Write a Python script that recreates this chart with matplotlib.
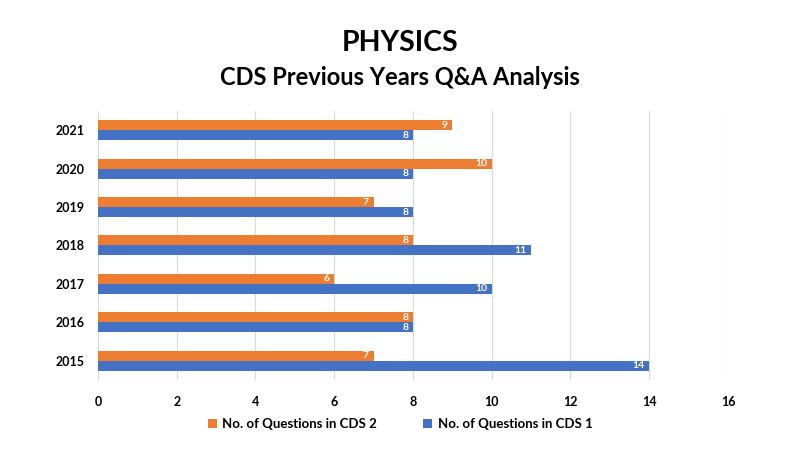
import numpy as np
import matplotlib.pyplot as plt

years = ["2015", "2016", "2017", "2018", "2019", "2020", "2021"]
cds2 = [7, 8, 6, 8, 7, 10, 9]
cds1 = [14, 8, 10, 11, 8, 8, 8]

ORANGE = "#ED7D31"
BLUE = "#4472C4"

plt.rcParams["font.family"] = ["Lato", "DejaVu Sans"]
plt.rcParams["font.weight"] = "bold"

fig = plt.figure(figsize=(8, 4.5), dpi=100)
ax = fig.add_axes([0.1225, 0.156, 0.7875, 0.597])

y = np.arange(len(years))
h = 0.26
b2 = ax.barh(y + h / 2, cds2, height=h, color=ORANGE, label="No. of Questions in CDS 2", zorder=3)
b1 = ax.barh(y - h / 2, cds1, height=h, color=BLUE, label="No. of Questions in CDS 1", zorder=3)

# white value labels just inside the bar ends
for bars in (b2, b1):
    for rect in bars:
        w = rect.get_width()
        ax.text(w - 0.12, rect.get_y() + rect.get_height() / 2, f"{w:g}",
                ha="right", va="center", color="white", fontsize=7.5, fontweight="bold", zorder=4)

ax.set_xlim(0, 16)
ax.set_ylim(-0.5, 6.5)
ax.set_xticks(range(0, 17, 2))
ax.set_yticks(y)
ax.set_yticklabels(years)
ax.tick_params(axis="both", length=0, labelsize=9, pad=12)
ax.tick_params(axis="y", pad=10)
ax.grid(axis="x", color="#D9D9D9", lw=0.8, zorder=0)
for s in ax.spines.values():
    s.set_visible(False)

fig.text(0.5, 0.905, "PHYSICS", ha="center", va="center", fontsize=20.5, fontweight="bold")
fig.text(0.5, 0.827, "CDS Previous Years Q&A Analysis", ha="center", va="center", fontsize=17, fontweight="bold")

fig.legend(handles=[b2, b1], loc="center", bbox_to_anchor=(0.5, 0.058), ncol=2, frameon=False,
           fontsize=9.5, handlelength=0.7, handleheight=0.7, columnspacing=3.5, handletextpad=0.4)

fig.savefig("out.png", dpi=100)
